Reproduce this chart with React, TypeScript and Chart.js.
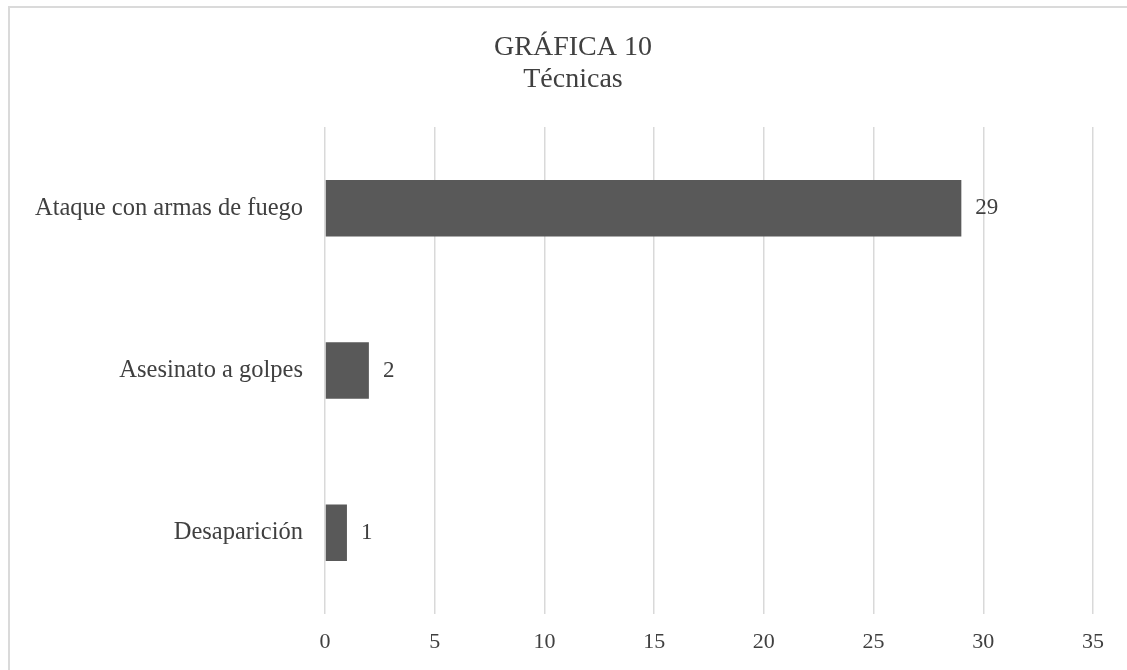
import React, { useEffect, useRef } from "react";
import { Chart, registerables } from "chart.js";

Chart.register(...registerables);

const categories = ["Ataque con armas de fuego", "Asesinato a golpes", "Desaparición"];
const values = [29, 2, 1];
const titleLines = ["GRÁFICA 10", "Técnicas"];
const xMin = 0;
const xMax = 35;
const xStep = 5;

const FONT = "'Liberation Serif', 'Times New Roman', serif";
const TEXT = "#404040";

export default function App() {
  const ref = useRef<HTMLCanvasElement | null>(null);

  useEffect(() => {
    const canvas = ref.current;
    if (!canvas) return;

    const framePlugin = {
      id: "frame",
      beforeDraw(chart: any) {
        const ctx = chart.ctx;
        ctx.save();
        ctx.fillStyle = "#ffffff";
        ctx.fillRect(0, 0, chart.width, chart.height);
        ctx.strokeStyle = "#dadada";
        ctx.lineWidth = 2;
        ctx.beginPath();
        ctx.moveTo(9, chart.height);
        ctx.lineTo(9, 7);
        ctx.lineTo(chart.width, 7);
        ctx.stroke();
        ctx.restore();
      },
      afterDraw(chart: any) {
        const ctx = chart.ctx;
        ctx.save();
        ctx.fillStyle = TEXT;
        ctx.textAlign = "center";
        ctx.textBaseline = "middle";
        ctx.font = `28px ${FONT}`;
        ctx.fillText(titleLines[0], 573, 48);
        ctx.fillText(titleLines[1], 573, 80);
        ctx.restore();
      },
    };

    const labelPlugin = {
      id: "barLabels",
      afterDatasetsDraw(chart: any) {
        const ctx = chart.ctx;
        const meta = chart.getDatasetMeta(0);
        ctx.save();
        ctx.fillStyle = TEXT;
        ctx.font = `23px ${FONT}`;
        ctx.textAlign = "left";
        ctx.textBaseline = "middle";
        meta.data.forEach((el: any, i: number) => {
          ctx.fillText(String(values[i]), el.x + 14, el.y);
        });
        ctx.restore();
      },
    };

    const chart = new Chart(canvas, {
      type: "bar",
      data: {
        labels: categories,
        datasets: [
          {
            data: values,
            backgroundColor: "#595959",
            borderWidth: 0,
            barPercentage: 0.348,
            categoryPercentage: 1,
          },
        ],
      },
      options: {
        indexAxis: "y",
        responsive: false,
        animation: false,
        layout: { padding: { top: 127, right: 34, bottom: 0, left: 0 } },
        plugins: {
          legend: { display: false },
          title: { display: false },
          tooltip: { enabled: false },
        },
        scales: {
          x: {
            min: xMin,
            max: xMax,
            grid: { color: "#d9d9d9", lineWidth: 1.5, drawTicks: false },
            border: { display: false },
            ticks: {
              stepSize: xStep,
              color: TEXT,
              padding: 15,
              font: { family: FONT, size: 22 },
            },
            afterFit(scale: any) {
              scale.height = 56;
            },
          },
          y: {
            grid: { display: false, drawTicks: false },
            border: { display: false },
            ticks: {
              color: TEXT,
              padding: 22,
              font: { family: FONT, size: 24.5 },
            },
            afterFit(scale: any) {
              scale.width = 325;
            },
          },
        },
      },
      plugins: [framePlugin, labelPlugin],
    });

    return () => chart.destroy();
  }, []);

  return (
    <div style={{ position: "absolute", left: 0, top: 0, width: 1127, height: 670, background: "#fff" }}>
      <canvas ref={ref} width={1127} height={670} style={{ display: "block", width: 1127, height: 670 }} />
    </div>
  );
}
